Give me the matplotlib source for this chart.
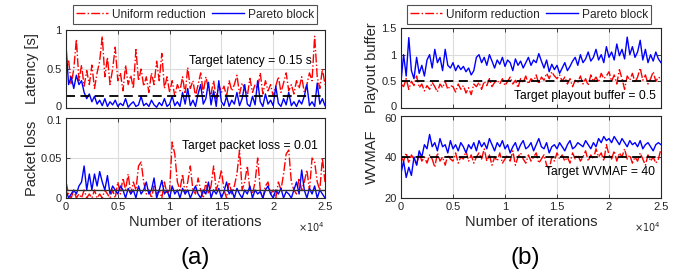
import numpy as np
import matplotlib
matplotlib.use("Agg")
import matplotlib.pyplot as plt
import matplotlib.transforms as mtrans
from matplotlib.lines import Line2D

plt.rcParams['font.family'] = ['Liberation Sans', 'DejaVu Sans']

iters = np.arange(0, 25001, 250)

lat_uniform = [0.45, 0.62, 0.30, 0.50, 0.88, 0.35, 0.55, 0.28, 0.48, 0.30,
               0.55, 0.25, 0.45, 0.60, 0.92, 0.40, 0.65, 0.30, 0.50, 0.78,
               0.35, 0.45, 0.22, 0.55, 0.30, 0.42, 0.25, 0.75, 0.35, 0.50,
               0.28, 0.40, 0.20, 0.45, 0.30, 0.60, 0.35, 0.70, 0.25, 0.40,
               0.20, 0.35, 0.15, 0.30, 0.22, 0.40, 0.18, 0.52, 0.25, 0.35,
               0.15, 0.30, 0.45, 0.20, 0.40, 0.25, 0.18, 0.35, 0.12, 0.30,
               0.20, 0.28, 0.15, 0.35, 0.22, 0.30, 0.42, 0.18, 0.32, 0.25,
               0.15, 0.38, 0.20, 0.30, 0.25, 0.45, 0.18, 0.35, 0.22, 0.30,
               0.15, 0.28, 0.40, 0.20, 0.32, 0.45, 0.22, 0.30, 0.18, 0.35,
               0.25, 0.40, 0.20, 0.30, 0.45, 0.35, 0.92, 0.40, 0.25, 0.50,
               0.30]
lat_pareto = [0.80, 0.30, 0.40, 0.25, 0.42, 0.30, 0.35, 0.20, 0.12, 0.18,
              0.08, 0.15, 0.05, 0.10, 0.03, 0.12, 0.02, 0.08, 0.04, 0.10,
              0.02, 0.06, 0.03, 0.12, 0.01, 0.05, 0.08, 0.02, 0.04, 0.15,
              0.03, 0.06, 0.02, 0.10, 0.04, 0.01, 0.07, 0.03, 0.12, 0.02,
              0.05, 0.15, 0.03, 0.08, 0.02, 0.20, 0.05, 0.25, 0.03, 0.10,
              0.02, 0.18, 0.30, 0.05, 0.12, 0.33, 0.04, 0.22, 0.02, 0.35,
              0.08, 0.03, 0.15, 0.02, 0.10, 0.05, 0.20, 0.03, 0.12, 0.30,
              0.05, 0.02, 0.15, 0.04, 0.35, 0.08, 0.02, 0.18, 0.05, 0.10,
              0.03, 0.28, 0.06, 0.02, 0.12, 0.04, 0.20, 0.03, 0.08, 0.02,
              0.10, 0.05, 0.15, 0.30, 0.03, 0.08, 0.02, 0.32, 0.05, 0.12,
              0.03]

loss_uniform = [0.02, 0.005, 0.0, 0.01, 0.0, 0.005, 0.0, 0.01, 0.0, 0.005,
                0.0, 0.01, 0.0, 0.005, 0.0, 0.01, 0.005, 0.0, 0.01, 0.0,
                0.02, 0.005, 0.025, 0.01, 0.03, 0.005, 0.02, 0.01, 0.04, 0.045,
                0.02, 0.005, 0.01, 0.0, 0.015, 0.005, 0.01, 0.0, 0.02, 0.005,
                0.01, 0.07, 0.055, 0.02, 0.01, 0.03, 0.005, 0.02, 0.04, 0.01,
                0.005, 0.025, 0.01, 0.0, 0.02, 0.005, 0.015, 0.04, 0.01, 0.02,
                0.035, 0.01, 0.0, 0.02, 0.005, 0.015, 0.03, 0.06, 0.01, 0.02,
                0.04, 0.01, 0.005, 0.02, 0.05, 0.01, 0.0, 0.015, 0.02, 0.005,
                0.01, 0.0, 0.02, 0.01, 0.03, 0.055, 0.06, 0.02, 0.01, 0.005,
                0.025, 0.01, 0.02, 0.035, 0.01, 0.05, 0.045, 0.02, 0.01, 0.05,
                0.02]
loss_pareto = [0.01, 0.0, 0.005, 0.01, 0.005, 0.015, 0.02, 0.04, 0.01, 0.03,
               0.01, 0.03, 0.015, 0.033, 0.02, 0.01, 0.028, 0.005, 0.015, 0.01,
               0.005, 0.015, 0.01, 0.0, 0.012, 0.005, 0.01, 0.0, 0.015, 0.005,
               0.01, 0.02, 0.005, 0.01, 0.025, 0.0, 0.01, 0.022, 0.005, 0.01,
               0.0, 0.015, 0.005, 0.01, 0.0, 0.012, 0.005, 0.01, 0.0, 0.008,
               0.015, 0.005, 0.0, 0.01, 0.005, 0.02, 0.0, 0.01, 0.005, 0.012,
               0.0, 0.008, 0.02, 0.005, 0.01, 0.0, 0.012, 0.005, 0.0, 0.01,
               0.005, 0.015, 0.0, 0.01, 0.005, 0.008, 0.0, 0.01, 0.015, 0.005,
               0.0, 0.01, 0.005, 0.012, 0.0, 0.008, 0.005, 0.0, 0.01, 0.02,
               0.005, 0.035, 0.01, 0.0, 0.012, 0.005, 0.015, 0.0, 0.01, 0.005,
               0.0]

buf_uniform = [0.45, 0.40, 0.55, 0.35, 0.50, 0.42, 0.60, 0.38, 0.45, 0.32,
               0.42, 0.35, 0.48, 0.40, 0.30, 0.45, 0.38, 0.50, 0.35, 0.42,
               0.40, 0.30, 0.45, 0.35, 0.42, 0.28, 0.38, 0.25, 0.45, 0.40,
               0.48, 0.35, 0.50, 0.42, 0.55, 0.40, 0.48, 0.52, 0.45, 0.55,
               0.42, 0.50, 0.58, 0.45, 0.52, 0.38, 0.55, 0.48, 0.60, 0.45,
               0.55, 0.50, 0.62, 0.45, 0.58, 0.52, 0.65, 0.55, 0.68, 0.60,
               0.55, 0.62, 0.50, 0.58, 0.45, 0.55, 0.40, 0.52, 0.48, 0.60,
               0.45, 0.55, 0.42, 0.62, 0.50, 0.58, 0.48, 0.65, 0.55, 0.60,
               0.68, 0.50, 0.62, 0.45, 0.72, 0.55, 0.35, 0.60, 0.52, 0.65,
               0.48, 0.58, 0.75, 0.52, 0.62, 0.45, 0.55, 0.68, 0.50, 0.58,
               0.55]
buf_pareto = [0.50, 1.00, 0.60, 1.32, 0.70, 0.55, 0.95, 0.65, 0.80, 0.60,
              0.90, 1.00, 0.75, 1.10, 0.85, 0.95, 0.70, 1.10, 0.80, 0.75,
              0.85, 0.70, 0.80, 0.72, 0.78, 0.68, 0.75, 0.62, 0.70, 0.95,
              1.00, 0.85, 0.95, 0.80, 1.00, 0.88, 0.75, 0.90, 0.82, 0.95,
              0.78, 0.90, 0.85, 0.70, 0.92, 0.80, 0.88, 0.75, 0.85, 0.95,
              0.80, 0.90, 0.85, 1.02, 0.88, 0.75, 0.90, 0.68, 0.82, 0.72,
              0.80, 0.65, 0.75, 0.85, 0.70, 0.78, 0.88, 0.95, 0.80, 1.00,
              0.85, 0.92, 1.05, 0.88, 0.95, 1.10, 0.90, 1.00, 0.85, 1.15,
              0.95, 1.05, 0.90, 1.20, 0.98, 1.10, 0.92, 1.33, 1.00, 1.15,
              0.95, 1.05, 1.27, 0.90, 1.10, 0.85, 1.00, 0.88, 1.05, 0.92,
              0.85]

vmaf_uniform = [40, 38, 42, 37, 41, 39, 36, 42, 38, 40,
                37, 41, 39, 35, 42, 38, 40, 36, 41, 39,
                38, 42, 37, 40, 39, 43, 38, 41, 37, 40,
                42, 39, 44, 38, 41, 36, 40, 38, 42, 37,
                39, 41, 38, 43, 36, 40, 42, 39, 37, 41,
                38, 40, 42, 37, 39, 41, 36, 34, 40, 38,
                42, 39, 41, 38, 40, 37, 42, 39, 41, 38,
                40, 43, 38, 41, 39, 44, 40, 42, 38, 46,
                41, 39, 43, 38, 42, 40, 44, 39, 41, 37,
                40, 38, 42, 39, 36, 41, 38, 40, 37, 39,
                44]
vmaf_pareto = [32, 38, 30, 35, 31, 40, 36, 43, 40, 46,
               44, 51, 45, 47, 43, 49, 45, 46, 42, 48,
               44, 46, 43, 47, 45, 42, 46, 44, 47, 43,
               48, 45, 47, 44, 49, 46, 43, 47, 45, 48,
               44, 46, 42, 45, 47, 43, 46, 48, 44, 45,
               47, 43, 46, 49, 45, 44, 47, 42, 45, 46,
               44, 47, 45, 43, 46, 48, 44, 45, 47, 46,
               45, 48, 46, 44, 47, 45, 49, 47, 50, 48,
               49, 47, 50, 48, 46, 49, 47, 45, 48, 46,
               47, 45, 48, 44, 46, 47, 45, 43, 46, 47,
               46]

xticks = [0, 5000, 10000, 15000, 20000, 25000]
xticklabels = ['0', '0.5', '1', '1.5', '2', '2.5']

W, H = 682, 273
fig = plt.figure(figsize=(W / 100, H / 100), dpi=100)

def rect(l, t, r, b):
    return [l / W, 1 - b / H, (r - l) / W, (b - t) / H]

ax_tl = fig.add_axes(rect(66, 30, 325, 108))
ax_bl = fig.add_axes(rect(66, 118, 325, 198))
ax_tr = fig.add_axes(rect(401, 28, 661, 108))
ax_br = fig.add_axes(rect(401, 116, 661, 198))

TXT = '#262626'
RED = (1, 0, 0)
BLUE = (0, 0, 1)

def style(ax, ylim, yticks, yticklabels, ylabel, labx, show_x):
    ax.set_xlim(0, 25000)
    ax.set_ylim(*ylim)
    ax.set_xticks(xticks)
    ax.set_yticks(yticks)
    ax.set_yticklabels(yticklabels)
    if show_x:
        ax.set_xticklabels(xticklabels)
    else:
        ax.set_xticklabels([])
    ax.tick_params(direction='in', length=3, width=0.6, top=True, right=True,
                   labelsize=8.0, colors=TXT, pad=3)
    ax.grid(True, color='#dcdcdc', linewidth=0.8)
    ax.set_axisbelow(True)
    for s in ax.spines.values():
        s.set_color('#262626')
        s.set_linewidth(0.8)
    ax.set_ylabel(ylabel, fontsize=10.5, color=TXT)
    ax.yaxis.set_label_coords(labx, 0.5)
    if show_x:
        ax.set_xlabel('Number of iterations', fontsize=10.5, color=TXT, labelpad=2)
        ax.text(1.0, -0.36, r'$\times10^{4}$', transform=ax.transAxes,
                ha='right', va='center', fontsize=7, color=TXT)

def nudge(ax, index, dy_px):
    lab = ax.get_yticklabels()[index]
    lab.set_transform(lab.get_transform() +
                      mtrans.ScaledTranslation(0, dy_px / 100, fig.dpi_scale_trans))

lw = 1.0
# Top-left: latency
ax_tl.plot(iters, lat_uniform, color=RED, linestyle='-.', linewidth=lw)
ax_tl.plot(iters, lat_pareto, color=BLUE, linestyle='-', linewidth=lw)
ax_tl.axhline(0.15, color='k', linestyle=(0, (5, 3)), linewidth=1.3)
ax_tl.text(23745, 0.6, 'Target latency = 0.15 s', ha='right', va='center', fontsize=8.7)
style(ax_tl, (0, 1), [0, 0.5, 1], ['0', '0.5', '1'], 'Latency [s]', -0.104, False)

# Bottom-left: packet loss
ax_bl.plot(iters, loss_uniform, color=RED, linestyle='-.', linewidth=lw)
ax_bl.plot(iters, loss_pareto, color=BLUE, linestyle='-', linewidth=lw)
ax_bl.axhline(0.01, color='#333333', linestyle='-', linewidth=1.0)
ax_bl.text(24324, 0.065, 'Target packet loss = 0.01', ha='right', va='center', fontsize=8.7)
style(ax_bl, (0, 0.1), [0, 0.05, 0.1], ['0', '0.05', '0.1'], 'Packet loss', -0.104, True)

# Top-right: playout buffer
ax_tr.plot(iters, buf_uniform, color=RED, linestyle='-.', linewidth=lw)
ax_tr.plot(iters, buf_pareto, color=BLUE, linestyle='-', linewidth=lw)
ax_tr.axhline(0.5, color='k', linestyle=(0, (5, 3)), linewidth=1.3)
ax_tr.text(24519, 0.225, 'Target playout buffer = 0.5', ha='right', va='center', fontsize=8.7)
style(ax_tr, (0, 1.5), [0, 0.5, 1, 1.5], ['0', '0.5', '1', '1.5'], 'Playout buffer', -0.085, False)

# Bottom-right: WVMAF
ax_br.plot(iters, vmaf_uniform, color=RED, linestyle='-.', linewidth=lw)
ax_br.plot(iters, vmaf_pareto, color=BLUE, linestyle='-', linewidth=lw)
ax_br.axhline(40, color='k', linestyle=(0, (5, 3)), linewidth=1.3)
ax_br.text(24423, 32.7, 'Target WVMAF = 40', ha='right', va='center', fontsize=8.7)
style(ax_br, (20, 60), [20, 40, 60], ['20', '40', '60'], 'WVMAF', -0.085, True)

# keep stacked tick labels between panels from touching
nudge(ax_tl, 0, 1.5)
nudge(ax_bl, 2, -1.5)
nudge(ax_tr, 0, 1.5)
nudge(ax_br, 2, -1.5)

handles = [Line2D([], [], color=RED, linestyle='-.', linewidth=lw),
           Line2D([], [], color=BLUE, linestyle='-', linewidth=lw)]
names = ['Uniform reduction', 'Pareto block']
for left, right in [(73, 317), (406, 652)]:
    leg = fig.legend(handles, names, loc='upper center',
                     bbox_to_anchor=((left + right) / 2 / W, 1 - 5 / H),
                     ncol=2, fontsize=8.6, frameon=True, fancybox=False,
                     handlelength=2.7, handletextpad=0.3, columnspacing=0.5,
                     borderpad=0.3, borderaxespad=0)
    leg.get_frame().set_edgecolor('#262626')
    leg.get_frame().set_linewidth(0.8)
    for t in leg.get_texts():
        t.set_color(TXT)

fig.text(195 / W, 1 - 258 / H, '(a)', ha='center', va='center', fontsize=17.5)
fig.text(525 / W, 1 - 258 / H, '(b)', ha='center', va='center', fontsize=17.5)

fig.savefig('out.png', dpi=100)
